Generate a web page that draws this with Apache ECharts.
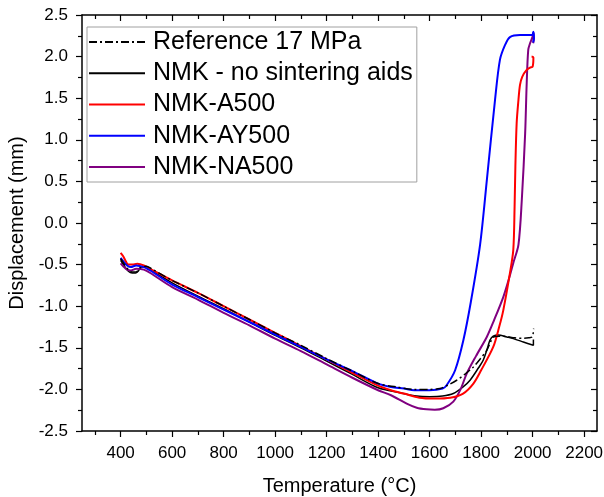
<!DOCTYPE html>
<html>
<head>
<meta charset="utf-8">
<script src="https://cdn.jsdelivr.net/npm/echarts@6/dist/echarts.min.js"></script>
<style>
  html, body { margin: 0; padding: 0; background: #fff; }
  #chart { width: 604px; height: 497px; }
</style>
</head>
<body>
<div id="chart"></div>
<script>
// Dilatometer displacement vs temperature, [°C, mm]
const seriesNames = ['Reference 17 MPa', 'NMK - no sintering aids', 'NMK-A500', 'NMK-AY500', 'NMK-NA500'];

const reference17MPa = [
  [400,-0.43],[415,-0.50],[430,-0.56],[445,-0.59],[460,-0.59],[475,-0.54],[500,-0.52],[520,-0.55],
  [600,-0.69],[700,-0.84],[800,-1.00],[900,-1.16],[1000,-1.32],[1100,-1.47],[1200,-1.63],[1300,-1.78],
  [1400,-1.93],[1470,-1.97],[1537,-2.00],[1600,-2.00],[1640,-1.99],[1670,-1.95],[1705,-1.89],[1740,-1.81],
  [1770,-1.73],[1800,-1.62],[1822,-1.53],[1838,-1.42],[1847,-1.37],[1870,-1.36],[1899,-1.365],[1930,-1.38],
  [1964,-1.385],[1985,-1.38],[1998,-1.37],[2002,-1.33],[2004,-1.27]
];

const nmkNoAids = [
  [400,-0.45],[415,-0.52],[430,-0.58],[445,-0.60],[458,-0.60],[468,-0.58],[480,-0.53],[500,-0.53],[520,-0.57],
  [600,-0.72],[700,-0.88],[800,-1.03],[900,-1.19],[1000,-1.35],[1100,-1.50],[1200,-1.66],[1300,-1.82],
  [1400,-1.98],[1485,-2.04],[1550,-2.08],[1600,-2.087],[1650,-2.08],[1692,-2.05],[1730,-1.97],[1757,-1.89],
  [1790,-1.74],[1808,-1.65],[1825,-1.50],[1834,-1.41],[1847,-1.36],[1867,-1.345],[1900,-1.37],[1925,-1.39],
  [1964,-1.43],[2003,-1.47],[2003,-1.40]
];

const nmkA500 = [
  [400,-0.36],[410,-0.40],[420,-0.46],[430,-0.50],[445,-0.50],[465,-0.49],[490,-0.51],[520,-0.56],
  [600,-0.69],[700,-0.84],[800,-1.00],[900,-1.16],[1000,-1.32],[1100,-1.48],[1200,-1.64],[1300,-1.80],
  [1400,-1.955],[1450,-2.01],[1500,-2.05],[1560,-2.10],[1620,-2.11],[1680,-2.10],[1730,-2.05],[1770,-1.93],
  [1800,-1.77],[1847,-1.49],[1870,-1.25],[1886,-1.05],[1912,-0.60],[1925,-0.32],[1930,0.20],[1933,0.68],
  [1938,1.20],[1945,1.48],[1951,1.66],[1960,1.76],[1977,1.84],[1990,1.867],[2000,1.88],[2003,1.99],[1996,2.00]
];

const nmkAY500 = [
  [400,-0.42],[410,-0.46],[425,-0.51],[440,-0.53],[460,-0.51],[490,-0.53],[520,-0.58],
  [600,-0.74],[700,-0.89],[800,-1.04],[900,-1.19],[1000,-1.34],[1100,-1.49],[1200,-1.64],[1300,-1.78],
  [1400,-1.93],[1450,-1.97],[1500,-1.99],[1540,-2.01],[1600,-2.01],[1650,-1.99],[1666,-1.95],[1699,-1.77],
  [1731,-1.41],[1760,-0.95],[1796,-0.26],[1823,0.54],[1854,1.48],[1873,1.96],[1893,2.14],[1912,2.235],
  [1951,2.26],[1998,2.26],[2003,2.30],[2005,2.22],[2002,2.17]
];

const nmkNA500 = [
  [400,-0.485],[410,-0.52],[425,-0.56],[440,-0.57],[460,-0.55],[490,-0.56],[520,-0.61],
  [600,-0.77],[700,-0.92],[800,-1.08],[900,-1.23],[1000,-1.39],[1100,-1.54],[1200,-1.70],[1300,-1.86],
  [1400,-2.01],[1450,-2.07],[1511,-2.17],[1550,-2.22],[1588,-2.24],[1620,-2.245],[1653,-2.227],[1692,-2.147],
  [1720,-2.00],[1744,-1.81],[1780,-1.60],[1822,-1.37],[1850,-1.17],[1886,-0.89],[1910,-0.65],[1925,-0.48],
  [1945,-0.26],[1958,0.28],[1971,1.08],[1977,1.68],[1983,2.08],[1990,2.16],[2001,2.25],[2003,2.29],
  [2005,2.22],[2002,2.16]
];

// Axis ticks
const xMajorTicks = [400, 600, 800, 1000, 1200, 1400, 1600, 1800, 2000, 2200];
const xMinorTicks = [300, 500, 700, 900, 1100, 1300, 1500, 1700, 1900, 2100];

const FONT = "'Liberation Sans', Arial, sans-serif";
const AXIS_COLOR = '#000';
const PLOT_RECT = { left: 82, right: 7, top: 15, bottom: 66, containLabel: false, outerBoundsMode: 'none' };

// Extra tick-only x axes, each in its own overlay grid so positions never clash
function tickAxis(gridIndex, position, values, len, inside, showLine) {
  return {
    type: 'value', gridIndex: gridIndex, position: position, min: 250, max: 2250,
    axisLine: { show: !!showLine, onZero: false, lineStyle: { color: AXIS_COLOR, width: 1.5 } },
    axisTick: { show: true, inside: inside, length: len, customValues: values,
                lineStyle: { color: AXIS_COLOR, width: 1.2 } },
    axisLabel: { show: false },
    splitLine: { show: false }
  };
}
function hiddenY(gridIndex) {
  return { type: 'value', gridIndex: gridIndex, min: -2.5, max: 2.5, show: false,
           axisLine: { onZero: false }, splitLine: { show: false } };
}

const chart = echarts.init(document.getElementById('chart'), null, { renderer: 'canvas' });

const option = {
  animation: false,
  backgroundColor: '#fff',
  textStyle: { fontFamily: FONT },
  grid: [
    Object.assign({}, PLOT_RECT),
    Object.assign({}, PLOT_RECT),
    Object.assign({}, PLOT_RECT),
    Object.assign({}, PLOT_RECT)
  ],
  legend: {
    data: seriesNames,
    orient: 'vertical',
    left: 87, top: 27,
    padding: [2.5, 4, 2.5, 1],
    itemWidth: 56, itemHeight: 14, itemGap: 6.25,
    itemStyle: { opacity: 0 },
    backgroundColor: '#fff',
    borderColor: '#a0a0a0', borderWidth: 1, borderRadius: 0,
    textStyle: { fontFamily: FONT, fontSize: 25, lineHeight: 25, color: '#000', padding: [0, 0, 0, 3] }
  },
  xAxis: [
    {
      type: 'value', gridIndex: 0, position: 'bottom', min: 250, max: 2250,
      axisLine: { show: true, onZero: false, lineStyle: { color: AXIS_COLOR, width: 1.5 } },
      axisTick: { show: true, inside: false, length: 6, customValues: xMajorTicks,
                  lineStyle: { color: AXIS_COLOR, width: 1.2 } },
      axisLabel: { show: true, customValues: xMajorTicks, margin: 14,
                   fontFamily: FONT, fontSize: 17, color: '#000',
                   formatter: v => String(v) },
      splitLine: { show: false },
      name: 'Temperature (°C)', nameLocation: 'middle', nameGap: 45,
      nameTextStyle: { fontFamily: FONT, fontSize: 20, color: '#000' }
    },
    tickAxis(1, 'bottom', xMinorTicks, 4, false, false),
    tickAxis(2, 'top', xMajorTicks, 6, true, true),
    tickAxis(3, 'top', xMinorTicks, 4, true, false)
  ],
  yAxis: [
    {
      type: 'value', gridIndex: 0, position: 'left', min: -2.5, max: 2.5, interval: 0.5,
      axisLine: { show: true, onZero: false, lineStyle: { color: AXIS_COLOR, width: 1.5 } },
      axisTick: { show: true, inside: false, length: 6, lineStyle: { color: AXIS_COLOR, width: 1.2 } },
      minorTick: { show: true, splitNumber: 2, length: 4, lineStyle: { color: AXIS_COLOR, width: 1.2 } },
      axisLabel: { show: true, margin: 14, fontFamily: FONT, fontSize: 17, color: '#000',
                   formatter: v => v.toFixed(1) },
      splitLine: { show: false },
      name: 'Displacement (mm)', nameLocation: 'middle', nameGap: 49,
      nameTextStyle: { fontFamily: FONT, fontSize: 20, color: '#000' }
    },
    {
      type: 'value', gridIndex: 0, position: 'right', min: -2.5, max: 2.5, interval: 0.5,
      axisLine: { show: true, onZero: false, lineStyle: { color: AXIS_COLOR, width: 1.5 } },
      axisTick: { show: true, inside: true, length: 6, lineStyle: { color: AXIS_COLOR, width: 1.2 } },
      minorTick: { show: true, splitNumber: 2, length: 4, lineStyle: { color: AXIS_COLOR, width: 1.2 } },
      axisLabel: { show: false },
      splitLine: { show: false }
    },
    hiddenY(1),
    hiddenY(2),
    hiddenY(3)
  ],
  series: [
    { name: 'NMK - no sintering aids', data: nmkNoAids, color: '#000000', width: 1.5 },
    { name: 'NMK-NA500', data: nmkNA500, color: '#800080', width: 2 },
    { name: 'NMK-A500', data: nmkA500, color: '#ff0000', width: 2 },
    { name: 'NMK-AY500', data: nmkAY500, color: '#0000ff', width: 2 },
    { name: 'Reference 17 MPa', data: reference17MPa, color: '#000000', width: 1.5, dash: [8, 3, 2, 3] }
  ].map(s => ({
    name: s.name,
    type: 'line',
    xAxisIndex: 0,
    yAxisIndex: 0,
    data: s.data,
    symbol: 'none',
    showSymbol: false,
    smooth: 0.3,
    color: s.color,
    lineStyle: { color: s.color, width: s.width, type: s.dash || 'solid' },
    emphasis: { disabled: true }
  }))
};

chart.setOption(option);
</script>
</body>
</html>
